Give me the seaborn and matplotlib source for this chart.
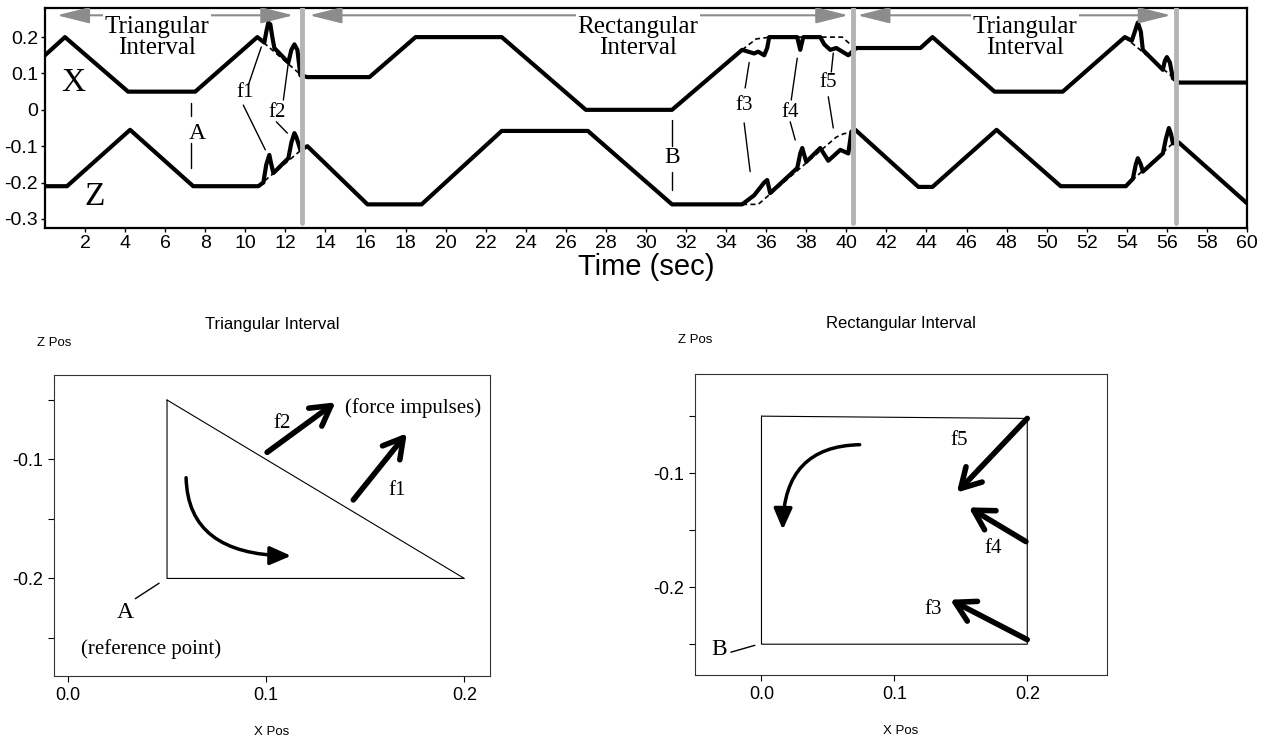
import numpy as np
import pandas as pd
import seaborn as sns
import matplotlib.pyplot as plt
from matplotlib.patches import FancyArrowPatch

# ---- top panel: X and Z hand positions over time (breakpoints)
x_time = [0, 1.0, 4.15, 7.5, 10.6, 10.95, 11.05, 11.15, 11.25, 11.35, 11.45,
          12.15, 12.3, 12.45, 12.6, 12.75, 13.1, 16.2, 18.5, 22.8, 27.0, 31.3,
          34.8, 35.4, 35.6, 35.9, 36.05, 36.15, 37.55, 37.7, 37.85, 38.7, 38.9,
          39.2, 39.5, 39.8, 40.1, 40.5, 43.7, 44.3, 47.4, 50.8, 53.9, 54.25,
          54.4, 54.55, 54.7, 54.8, 55.8, 55.9, 56.0, 56.15, 56.3, 56.6, 60]
x_pos = [0.15, 0.2, 0.05, 0.05, 0.2, 0.185, 0.215, 0.24, 0.235, 0.2, 0.17,
         0.13, 0.165, 0.18, 0.165, 0.095, 0.09, 0.09, 0.2, 0.2, 0.0, 0.0,
         0.165, 0.155, 0.16, 0.15, 0.17, 0.2, 0.2, 0.165, 0.2, 0.2, 0.18,
         0.165, 0.17, 0.16, 0.15, 0.17, 0.17, 0.2, 0.05, 0.05, 0.2, 0.19,
         0.215, 0.24, 0.215, 0.165, 0.11, 0.135, 0.145, 0.13, 0.087, 0.075, 0.075]

z_time = [0, 1.1, 4.25, 7.4, 10.65, 10.9, 11.05, 11.2, 11.3, 11.4, 12.15,
          12.3, 12.45, 12.55, 12.75, 13.1, 16.1, 18.8, 22.8, 27.1, 31.3, 34.8,
          35.4, 35.9, 36.05, 36.2, 37.55, 37.7, 37.8, 38.0, 38.7, 39.1, 39.7,
          40.1, 40.25, 40.45, 43.6, 44.3, 47.5, 50.7, 53.95, 54.3, 54.45, 54.55,
          54.7, 54.8, 55.8, 55.95, 56.1, 56.2, 56.3, 56.6, 60]
z_pos = [-0.21, -0.21, -0.055, -0.21, -0.21, -0.2, -0.15, -0.124, -0.15, -0.174, -0.133,
         -0.09, -0.064, -0.075, -0.11, -0.1, -0.26, -0.26, -0.058, -0.058, -0.26, -0.26,
         -0.235, -0.2, -0.193, -0.229, -0.16, -0.12, -0.105, -0.143, -0.105, -0.14, -0.11,
         -0.12, -0.06, -0.055, -0.212, -0.212, -0.055, -0.21, -0.21, -0.19, -0.15, -0.133,
         -0.15, -0.17, -0.12, -0.08, -0.05, -0.065, -0.092, -0.09, -0.257]

# unperturbed paths (dashed)
ideal_time = [[10.6, 12.8], [34.8, 35.5, 36.2, 39.8, 40.3], [53.9, 56.3],
              [10.65, 12.8], [34.8, 35.6, 39.5, 39.9, 40.3], [53.95, 56.3]]
ideal_pos = [[0.2, 0.095], [0.165, 0.195, 0.2, 0.2, 0.175], [0.2, 0.09],
             [-0.21, -0.11], [-0.26, -0.26, -0.075, -0.065, -0.065], [-0.21, -0.092]]

interval_edges = [12.85, 40.35, 56.45]
interval_spans = [(0.6, 12.4), (13.2, 40.1), (40.55, 56.2)]
interval_names = ["Triangular\nInterval", "Rectangular\nInterval", "Triangular\nInterval"]
interval_centers = [5.6, 29.6, 48.9]

time_ticks = list(range(2, 62, 2))
pos_ticks = [-0.3, -0.2, -0.1, 0, 0.1, 0.2]
pos_labels = ["-0.3", "-0.2", "-0.1", "0", "0.1", "0.2"]

# ---- bottom panels: hand path in the X/Z plane
tri_x = [0.05, 0.05, 0.2, 0.05]
tri_z = [-0.05, -0.2, -0.2, -0.05]
rect_x = [0.0, 0.0, 0.2, 0.2, 0.0]
rect_z = [-0.05, -0.25, -0.25, -0.052, -0.05]

tri_forces = [((0.1005, -0.094), (0.135, -0.052)), ((0.144, -0.134), (0.171, -0.078))]
rect_forces = [((0.2, -0.052), (0.147, -0.117)), ((0.199, -0.16), (0.156, -0.13)),
               ((0.2, -0.246), (0.142, -0.211))]

serif = "Liberation Serif"

sns.set_theme(style="ticks")
plt.rcParams["font.family"] = ["Liberation Sans", "DejaVu Sans"]
plt.rcParams["text.color"] = "black"
plt.rcParams["axes.labelcolor"] = "black"

fig = plt.figure(figsize=(12.66, 7.36), dpi=100)

# ================= top panel =================
ax = fig.add_axes([0.0355, 0.6902, 0.9495, 0.2989])
sns.lineplot(x=x_time, y=x_pos, ax=ax, color="black", lw=3, sort=False, estimator=None)
sns.lineplot(x=z_time, y=z_pos, ax=ax, color="black", lw=3, sort=False, estimator=None)
for t, p in zip(ideal_time, ideal_pos):
    ax.plot(t, p, color="black", lw=1.2, ls=(0, (3, 2)))

for e in interval_edges:
    ax.axvline(e, ymin=0.025, ymax=1, color="#b4b4b4", lw=3.5, zorder=5)
for (a, b), name, c in zip(interval_spans, interval_names, interval_centers):
    ax.add_patch(FancyArrowPatch((a, 0.26), (b, 0.26),
                                 arrowstyle="<|-|>,head_length=1.0,head_width=0.25",
                                 mutation_scale=20, color="#8c8c8c", lw=1.5,
                                 shrinkA=0, shrinkB=0, zorder=6))
    ax.text(c, 0.2, name, family=serif, fontsize=18, ha="center", va="center",
            linespacing=0.95, zorder=7,
            bbox=dict(facecolor="white", edgecolor="none", pad=1))

ax.text(1.4, 0.075, "X", family=serif, fontsize=24, ha="center", va="center")
ax.text(2.5, -0.24, "Z", family=serif, fontsize=24, ha="center", va="center")
ax.text(7.6, -0.065, "A", family=serif, fontsize=17, ha="center", va="center")
ax.plot([7.3, 7.3], [0.02, -0.017], color="black", lw=1)
ax.plot([7.3, 7.3], [-0.09, -0.16], color="black", lw=1)
ax.text(31.3, -0.132, "B", family=serif, fontsize=17, ha="center", va="center")
ax.plot([31.3, 31.3], [-0.028, -0.1], color="black", lw=1)
ax.plot([31.3, 31.3], [-0.17, -0.22], color="black", lw=1)

f_labels = ["f1", "f2", "f3", "f4", "f5"]
f_pos = [(10.0, 0.049), (11.6, -0.006), (34.9, 0.013), (37.2, -0.006), (39.1, 0.076)]
f_lines = [[((10.15, 0.068), (10.8, 0.173)), ((9.9, 0.013), (11.0, -0.11))],
           [((11.9, 0.027), (12.15, 0.13)), ((11.55, -0.033), (12.1, -0.064))],
           [((35.15, 0.13), (34.95, 0.06)), ((34.9, -0.036), (35.2, -0.17))],
           [((37.55, 0.142), (37.25, 0.027)), ((37.2, -0.033), (37.45, -0.083))],
           [((39.35, 0.156), (39.25, 0.104)), ((39.1, 0.036), (39.35, -0.05))]]
for lab, (tx, ty), segs in zip(f_labels, f_pos, f_lines):
    ax.text(tx, ty, lab, family=serif, fontsize=15, ha="center", va="center")
    for (x0, y0), (x1, y1) in segs:
        ax.plot([x0, x1], [y0, y1], color="black", lw=1)

ax.set_xlim(0, 60)
ax.set_ylim(-0.325, 0.28)
ax.set_xticks(time_ticks)
ax.set_yticks(pos_ticks, pos_labels)
ax.tick_params(direction="out", length=3, width=1, labelsize=14, pad=2, colors="black")
ax.set_xlabel("Time (sec)", fontsize=21, labelpad=1)
ax.set_ylabel("")
for s in ax.spines.values():
    s.set_visible(True)
    s.set_color("black")
    s.set_linewidth(1.6)

# ================= bottom panels =================
def loop_panel(rect, px, pz, xlim, ylim, title, zpos_xy):
    a = fig.add_axes(rect)
    sns.lineplot(x=px, y=pz, ax=a, color="black", lw=0.8, sort=False, estimator=None)
    a.set_xlim(*xlim)
    a.set_ylim(*ylim)
    a.set_xticks([0.0, 0.1, 0.2], ["0.0", "0.1", "0.2"])
    a.set_yticks([-0.25, -0.2, -0.15, -0.1, -0.05], ["", "-0.2", "", "-0.1", ""])
    a.tick_params(direction="out", length=4, width=0.8, labelsize=13, pad=4, colors="black")
    for s in a.spines.values():
        s.set_visible(True)
        s.set_color("#333333")
        s.set_linewidth(0.8)
    a.set_title(title, fontsize=12, pad=33, color="black")
    a.set_xlabel("X Pos", fontsize=9.5, labelpad=16)
    a.set_ylabel("")
    fig.text(zpos_xy[0], zpos_xy[1], "Z Pos", fontsize=9.5, ha="center", va="center")
    return a


def force_arrow(a, start, end):
    a.add_patch(FancyArrowPatch(start, end, arrowstyle="->,head_length=0.7,head_width=0.4",
                                mutation_scale=20, lw=4, color="black",
                                shrinkA=0, shrinkB=0))


# triangular loop
bl = loop_panel([0.0427, 0.0815, 0.3444, 0.409], tri_x, tri_z, (-0.007, 0.213),
                (-0.282, -0.029), "Triangular Interval", (54 / 1266, 1 - 343 / 736))
for s, e in tri_forces:
    force_arrow(bl, s, e)
bl.text(0.108, -0.07, "f2", family=serif, fontsize=15, ha="center", va="center")
bl.text(0.166, -0.126, "f1", family=serif, fontsize=15, ha="center", va="center")
bl.text(0.174, -0.057, "(force impulses)", family=serif, fontsize=15, ha="center", va="center")
bl.text(0.029, -0.229, "A", family=serif, fontsize=17, ha="center", va="center")
bl.plot([0.034, 0.046], [-0.217, -0.204], color="black", lw=1)
bl.text(0.042, -0.259, "(reference point)", family=serif, fontsize=15, ha="center", va="center")
bl.add_patch(FancyArrowPatch((0.0596, -0.113), (0.114, -0.181),
                             connectionstyle="angle3,angleA=90,angleB=0",
                             arrowstyle="-|>,head_length=0.8,head_width=0.35",
                             mutation_scale=16, lw=2.5, color="black"))

# rectangular loop
br = loop_panel([0.549, 0.0829, 0.3254, 0.409], rect_x, rect_z, (-0.05, 0.26),
                (-0.277, -0.013), "Rectangular Interval", (695 / 1266, 1 - 340 / 736))
for s, e in rect_forces:
    force_arrow(br, s, e)
br.text(0.149, -0.071, "f5", family=serif, fontsize=15, ha="center", va="center")
br.text(0.174, -0.166, "f4", family=serif, fontsize=15, ha="center", va="center")
br.text(0.129, -0.22, "f3", family=serif, fontsize=15, ha="center", va="center")
br.text(-0.032, -0.255, "B", family=serif, fontsize=17, ha="center", va="center")
br.plot([-0.023, -0.005], [-0.257, -0.251], color="black", lw=1)
br.add_patch(FancyArrowPatch((0.076, -0.075), (0.016, -0.152),
                             connectionstyle="angle3,angleA=0,angleB=90",
                             arrowstyle="-|>,head_length=0.8,head_width=0.35",
                             mutation_scale=16, lw=2.5, color="black"))

fig.savefig("out.png", dpi=100)
